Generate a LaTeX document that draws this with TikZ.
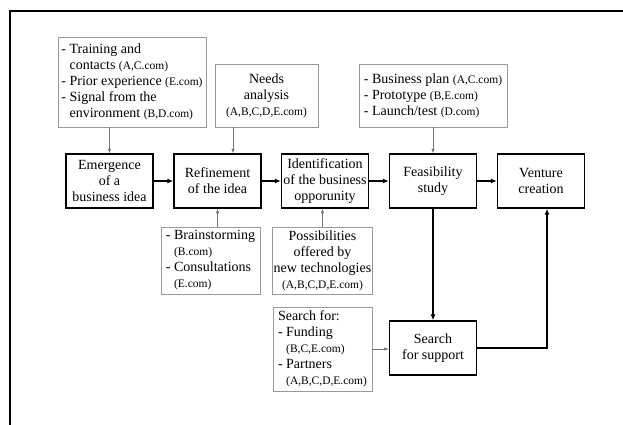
\documentclass[tikz,border=0pt]{standalone}
\usepackage{fontspec}
\setmainfont{Liberation Serif}
\usetikzlibrary{positioning, arrows.meta}

\newcommand{\src}[1]{{\fontsize{11.5}{16}\selectfont #1}}
\newcommand{\ind}{\phantom{- }}

\begin{document}
\begin{tikzpicture}[
        x=1pt, y=-1pt,
        font=\fontsize{14}{16}\selectfont,
        stage/.style={draw, line width=1.4pt, rectangle, align=center, minimum width=87pt, minimum height=54pt, inner sep=1pt},
        factor/.style={draw=gray!80, line width=0.7pt, rectangle, inner sep=1pt},
        flow/.style={-{Latex[length=6pt, width=5pt]}, line width=1.4pt},
        feed/.style={-{Latex[length=4.5pt, width=3.5pt]}, line width=0.7pt, gray!90!black}
    ]
    \useasboundingbox (0,0) rectangle (623,425);
    % --- Rahmen ---
    \draw[line width=1.5pt] (10,430) -- (10,11) -- (630,11);

    % --- Hauptprozess ---
    \node[stage] (emergence) at (109.5,181) {Emergence\\of a\\business idea};
    \node[stage] (refinement) at (217.5,181) {Refinement\\of the idea};
    \node[stage] (identification) at (325,181) {Identification\\of the business\\opporunity};
    \node[stage] (feasibility) at (433,181) {Feasibility\\study};
    \node[stage] (venture) at (541,181) {Venture\\creation};
    \node[stage] (support) at (433,348) {Search\\for support};

    % --- Einflussfaktoren oben ---
    \node[factor, align=left, minimum width=148pt, minimum height=90pt] (sources) at (132,82)
        {- Training and\\\ind contacts \src{(A,C.com)}\\- Prior experience \src{(E.com)}\\- Signal from the\\\ind environment \src{(B,D.com)}};
    \node[factor, align=center, minimum width=103pt, minimum height=63pt] (needs) at (266.5,95.5)
        {Needs\\analysis\\\src{(A,B,C,D,E.com)}};
    \node[factor, align=left, minimum width=148pt, minimum height=63pt] (plan) at (433,95.5)
        {- Business plan \src{(A,C.com)}\\- Prototype \src{(B,E.com)}\\- Launch/test \src{(D.com)}};

    % --- Einflussfaktoren unten ---
    \node[factor, align=left, minimum width=99pt, minimum height=67pt] (brainstorm) at (210.5,260.5)
        {- Brainstorming\\\ind\src{(B.com)}\\- Consultations\\\ind\src{(E.com)}};
    \node[factor, align=center, minimum width=99pt, minimum height=67pt] (techno) at (322.5,260.5)
        {Possibilities\\offered by\\new technologies\\\src{(A,B,C,D,E.com)}};
    \node[factor, align=left, minimum width=99pt, minimum height=84pt] (searchfor) at (322.5,349)
        {Search for:\\- Funding\\\ind\src{(B,C,E.com)}\\- Partners\\\ind\src{(A,B,C,D,E.com)}};

    % --- Hauptpfeile ---
    \draw[flow] (emergence) -- (refinement);
    \draw[flow] (refinement) -- (identification);
    \draw[flow] (identification) -- (feasibility);
    \draw[flow] (feasibility) -- (venture);
    \draw[flow] (feasibility) -- (support);
    \draw[flow] (support.east) -| ([xshift=6pt]venture.south);

    % --- Zuflüsse ---
    \draw[feed] (emergence.north |- sources.south) -- (emergence.north);
    \draw[feed] ([xshift=15.5pt]refinement.north |- needs.south) -- ([xshift=15.5pt]refinement.north);
    \draw[feed] (plan) -- (feasibility);
    \draw[feed] (refinement.south |- brainstorm.north) -- (refinement.south);
    \draw[feed] (techno.north) -- (techno.north |- identification.south);
    \draw[feed] (searchfor.east) -- (searchfor.east -| support.west);
\end{tikzpicture}
\end{document}
